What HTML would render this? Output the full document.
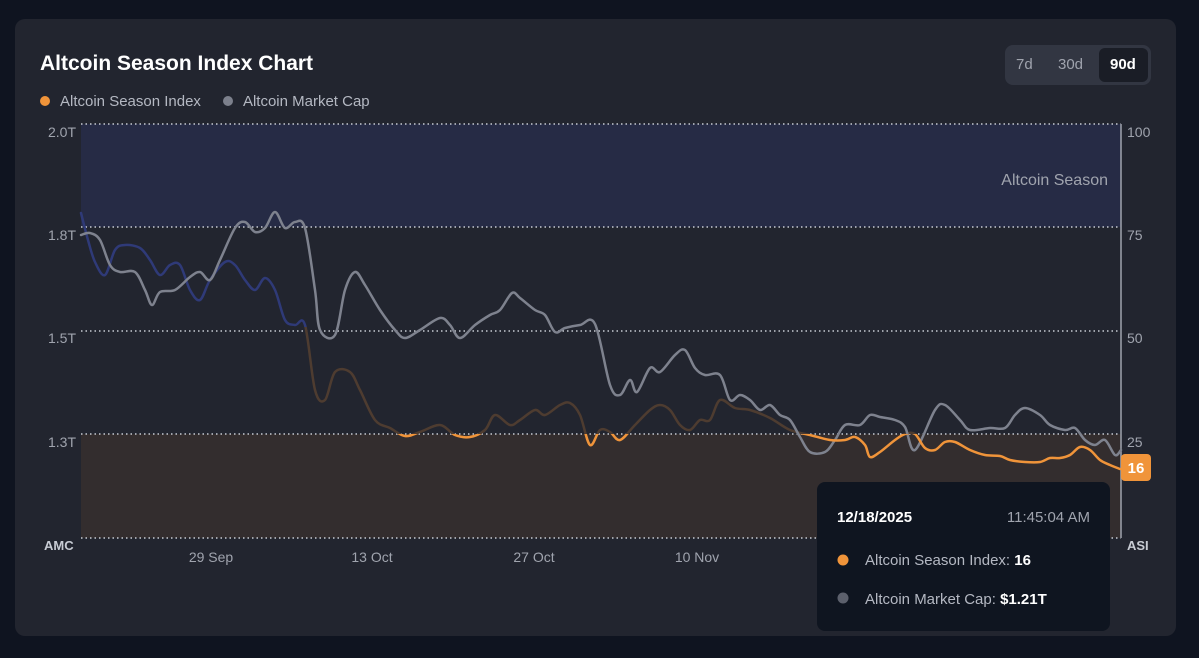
<!DOCTYPE html><html><head><style>
body{margin:0;width:1199px;height:658px;background:#0f1420;font-family:"Liberation Sans",sans-serif;overflow:hidden;position:relative}
.card{position:absolute;left:15px;top:19px;width:1161px;height:617px;background:#22252f;border-radius:10px}
.t{position:absolute;color:#fff}
</style></head><body>
<div class="card"></div>
<div class="t" style="left:40px;top:52px;font-size:21px;font-weight:bold">Altcoin Season Index Chart</div>
<div class="t" style="left:40px;top:93px;font-size:15px;color:#b4b8c2"><span style="display:inline-block;width:10px;height:10px;border-radius:5px;background:#f0943a;margin-right:10px"></span>Altcoin Season Index<span style="display:inline-block;width:10px;height:10px;border-radius:5px;background:#7c808c;margin:0 10px 0 22px"></span>Altcoin Market Cap</div>
<div style="position:absolute;left:1005px;top:45px;width:146px;height:40px;background:#323642;border-radius:8px"></div>
<div style="position:absolute;left:1099px;top:48px;width:49px;height:34px;background:#1a1d26;border-radius:6px"></div>
<div class="t" style="left:1016px;top:56px;font-size:15px;color:#a0a4ae">7d</div>
<div class="t" style="left:1058px;top:56px;font-size:15px;color:#a0a4ae">30d</div>
<div class="t" style="left:1110px;top:56px;font-size:15px;font-weight:bold">90d</div>
<svg id="s" style="position:absolute;left:0;top:0" width="1199" height="658">
<defs>
<clipPath id="lo"><rect x="0" y="434" width="1199" height="200"/></clipPath>
<clipPath id="mid"><rect x="0" y="327" width="1199" height="107"/></clipPath>
<clipPath id="hi"><rect x="0" y="0" width="1199" height="327"/></clipPath>
</defs>
<rect x="81" y="124" width="1040" height="103" fill="#262b45"/>
<rect x="81" y="434" width="1040" height="104" fill="#332d2e"/>
<g stroke="#c8ccd4" stroke-width="1.5" stroke-dasharray="1.5 3">
<line x1="81" y1="124" x2="1121" y2="124"/><line x1="81" y1="227" x2="1121" y2="227"/><line x1="81" y1="331" x2="1121" y2="331"/><line x1="81" y1="434" x2="1121" y2="434"/><line x1="81" y1="538" x2="1121" y2="538"/>
</g>
<line x1="1121" y1="124" x2="1121" y2="538" stroke="#a0a4ae" stroke-width="1.5"/>
<g font-size="14" fill="#a0a4ae">
<text x="76" y="137" text-anchor="end">2.0T</text><text x="76" y="240" text-anchor="end">1.8T</text><text x="76" y="343" text-anchor="end">1.5T</text><text x="76" y="447" text-anchor="end">1.3T</text>
<text x="1127" y="137">100</text><text x="1127" y="240">75</text><text x="1127" y="343">50</text><text x="1127" y="447">25</text>
<text x="211" y="562" text-anchor="middle">29 Sep</text><text x="372" y="562" text-anchor="middle">13 Oct</text><text x="534" y="562" text-anchor="middle">27 Oct</text><text x="697" y="562" text-anchor="middle">10 Nov</text>
<text x="1108" y="185" text-anchor="end" font-size="16">Altcoin Season</text>
</g>
<text x="44" y="550" font-size="13" font-weight="bold" fill="#c8ccd4">AMC</text>
<text x="1127" y="550" font-size="13" font-weight="bold" fill="#c8ccd4">ASI</text>
<g id="lines" fill="none" stroke-width="2.5" stroke-linejoin="round" stroke-linecap="round"></g>
<rect x="1121" y="454" width="30" height="27" rx="4" fill="#f0943a"/>
<text x="1136" y="473" text-anchor="middle" font-size="15" font-weight="bold" fill="#fff">16</text>
<rect x="817" y="482" width="293" height="149" rx="8" fill="#0f1520"/>
<text x="837" y="522" font-size="15" font-weight="bold" fill="#fff">12/18/2025</text>
<text x="1090" y="522" text-anchor="end" font-size="15" fill="#a0a4ae">11:45:04 AM</text>
<circle cx="843" cy="560" r="5.5" fill="#f0943a"/>
<text x="865" y="565" font-size="15" fill="#b4b8c2">Altcoin Season Index: <tspan font-weight="bold" fill="#fff">16</tspan></text>
<circle cx="843" cy="598" r="5.5" fill="#5c606c"/>
<text x="865" y="604" font-size="15" fill="#b4b8c2">Altcoin Market Cap: <tspan font-weight="bold" fill="#fff">$1.21T</tspan></text>
</svg>
<script>
function sm(s){var p=s.trim().split(/\s+/).map(function(q){return q.split(',').map(Number)});var d='M'+p[0][0]+','+p[0][1];
for(var i=0;i<p.length-1;i++){var a=p[i-1]||p[i],b=p[i],c=p[i+1],e=p[i+2]||c;
d+=' C'+(b[0]+(c[0]-a[0])/6)+','+(b[1]+(c[1]-a[1])/6)+' '+(c[0]-(e[0]-b[0])/6)+','+(c[1]-(e[1]-b[1])/6)+' '+c[0]+','+c[1];}return d;}
var mc="81,235 90,233 100,240 110,265 120,272 135,272 145,290 152,305 160,292 175,290 190,277 200,272 210,280 220,260 235,228 245,222 255,232 265,228 275,212 285,228 295,222 305,228 315,290 320,330 335,335 345,290 355,272 365,285 380,310 395,330 405,338 420,330 440,318 450,325 460,338 475,325 490,315 500,310 512,293 520,298 535,310 545,315 555,332 565,328 580,325 595,324 610,385 620,395 630,380 637,392 650,368 660,372 675,355 685,350 695,368 705,375 720,375 730,400 740,395 750,400 760,410 770,405 780,415 790,420 800,437 810,452 825,452 835,440 845,425 860,425 870,415 880,417 895,420 905,427 915,450 935,410 945,405 960,420 970,430 990,428 1005,428 1015,415 1025,408 1040,415 1050,425 1065,430 1075,428 1085,440 1095,445 1105,440 1115,455 1121,450";
var asi="81,213 88,240 95,262 105,275 115,250 125,245 140,248 150,260 160,275 170,265 180,265 190,290 200,300 210,280 225,262 235,265 245,280 255,290 265,278 275,290 285,320 295,325 305,325 315,390 325,400 335,372 350,372 360,390 375,420 390,428 405,436 420,432 440,425 455,435 470,437 485,430 495,415 510,425 520,420 535,410 545,415 560,405 570,403 580,415 590,445 600,430 610,432 620,440 635,425 650,410 660,405 670,410 680,425 690,430 700,420 710,420 720,400 735,408 750,410 770,418 790,430 810,435 830,440 845,440 855,437 865,445 870,457 880,452 895,440 905,434 915,434 925,448 935,450 945,442 955,442 970,450 985,455 1000,456 1010,460 1025,462 1040,462 1050,458 1060,458 1070,455 1080,447 1090,450 1100,460 1110,465 1120,469";
var g=document.getElementById('lines'),ns='http://www.w3.org/2000/svg';
function add(d,col,clip){var e=document.createElementNS(ns,'path');e.setAttribute('d',d);e.setAttribute('stroke',col);if(clip)e.setAttribute('clip-path','url(#'+clip+')');g.appendChild(e);}
var da=sm(asi);
add(da,'#2f3a78','hi');add(da,'#4e3c30','mid');
add(sm(mc),'#7e828e');
add(da,'#f0943a','lo');
</script>
</body></html>
